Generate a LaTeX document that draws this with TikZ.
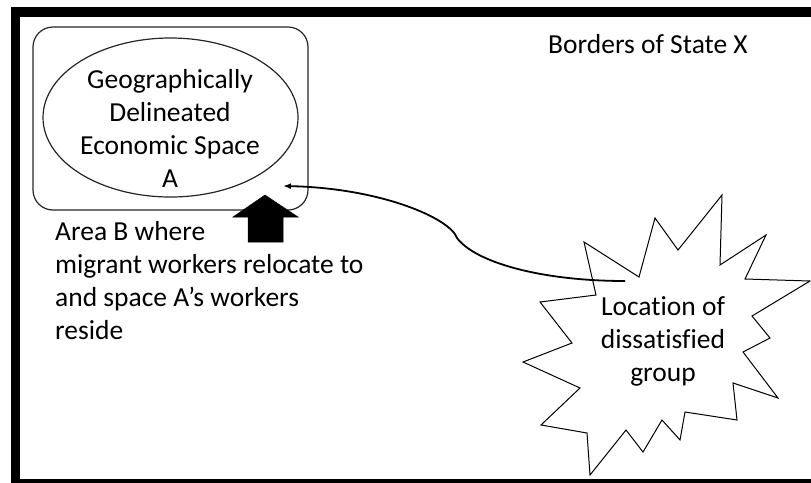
\documentclass[tikz,border=0pt]{standalone}
\usepackage{fontspec}
\setmainfont{Carlito}[Ligatures={NoCommon}]
\usetikzlibrary{arrows.meta,shapes.geometric}

\begin{document}
\begin{tikzpicture}[x=1pt,y=-1pt,
  lbl/.style={font=\fontsize{27.5}{33}\selectfont, text=black, inner sep=0pt, align=center},
  thinline/.style={draw=black!85, line width=1.2pt},
  frameline/.style={draw=black, line width=9.5pt},
  conn/.style={draw=black, line width=1.8pt, -{Latex[length=8pt,width=6pt]}},
  blockarrow/.style={fill=black, draw=black, line width=0.5pt}]
\useasboundingbox (0,0) rectangle (811,482);

% outer border of the state
\draw[frameline] (15.5,12) rectangle (830,484);

% area B with the economic space A inside
\node[thinline, rounded corners=20pt, minimum width=275pt, minimum height=183pt,
      inner sep=0pt] (areaB) at (170.5,118.5) {};
\node[thinline, ellipse, minimum width=255pt, minimum height=159pt,
      inner sep=0pt] (spaceA) at (170.5,117.5) {};
\node[lbl] (spaceAtext) at (170,128) {Geographically\\Delineated\\Economic Space\\A};

% labels
\node[lbl] (borders) at (648,44) {Borders of State X};
\node[lbl, align=left, anchor=west] (areaBtext) at (55,281)
  {Area B where\\migrant workers relocate to\\and space A's workers\\reside};

% block arrow pointing up into area B
\draw[blockarrow] (265,195) -- (298,217) -- (283,217) -- (283,242)
  -- (248,242) -- (248,217) -- (233,217) -- cycle;

% starburst around the dissatisfied group
\draw[draw=black, line width=1pt, fill=white, line join=miter]
  (722,195) -- (678,250) -- (655,218) -- (639,277) -- (584,242) -- (596,295)
  -- (540,302) -- (572,343) -- (523,362) -- (580,388) -- (541,425) -- (587,433)
  -- (590,475) -- (626,430) -- (643,452) -- (662,420) -- (680,440) -- (685,412)
  -- (737,420) -- (733,383) -- (778,398) -- (743,352) -- (770,338) -- (752,316)
  -- (810,281) -- (745,279) -- (766,235) -- (720,265) -- cycle;
\node[lbl] (group) at (663,341) {Location of\\dissatisfied\\group};

% connector from the group to area B
\coordinate (groupstart) at (625,281);
\coordinate (areaBend) at (283,186);
\draw[conn] (groupstart) .. controls (540,281) and (475,262) .. (457,238)
  .. controls (450,218) and (380,188) .. (areaBend);
\end{tikzpicture}
\end{document}
